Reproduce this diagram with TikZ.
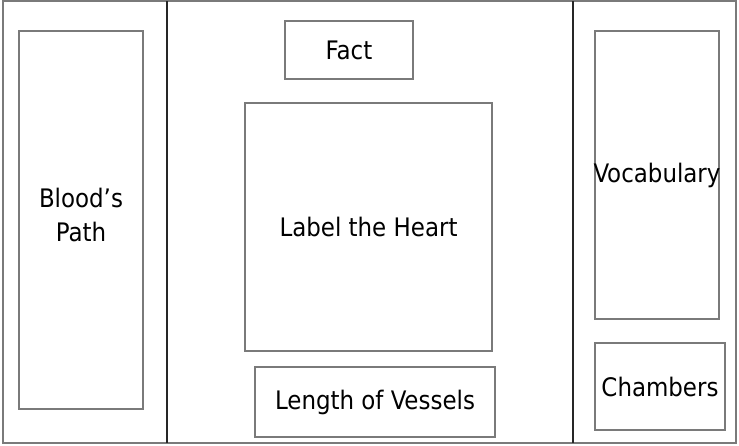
\documentclass[tikz,border=0pt]{standalone}
\usepackage{fontspec}
\setmainfont{DejaVu Sans Condensed}
\usepackage{tikz}
\usetikzlibrary{positioning}

\begin{document}
\begin{tikzpicture}[x=1pt,y=-1pt,
box/.style={draw=black!52,line width=1.5pt,rectangle,inner sep=0pt,align=center,
    font=\fontsize{25.5}{34}\selectfont},
every label/.style={font=\fontsize{25.5}{34}\selectfont,align=center}]
\useasboundingbox (0,0) rectangle (739,445);
% outer frame and the two folds
\draw [black!52,line width=1.8pt] (3,1) rectangle (736,443);
\draw [black!85,line width=1.3pt] (167,1) -- (167,443);
\draw [black!85,line width=1.3pt] (573,1) -- (573,443);
% left panel
\node (path) [box,minimum width=124,minimum height=378,
    label={[yshift=5pt]center:Blood's\\Path}] at (81,220) {};
% middle panel
\node (fact) [box,minimum width=128,minimum height=58] at (349,50) {Fact};
\node (heart) [box,minimum width=247,minimum height=248] at (368.5,227) {Label the Heart};
\node (vessels) [box,minimum width=240,minimum height=70] at (375,402) {Length of Vessels};
% right panel
\node (vocab) [box,minimum width=124,minimum height=288,
    label=center:Vocabulary] at (657,175) {};
\node (chambers) [box,minimum width=130,minimum height=87] at (660,386.5) {Chambers};
\end{tikzpicture}
\end{document}
